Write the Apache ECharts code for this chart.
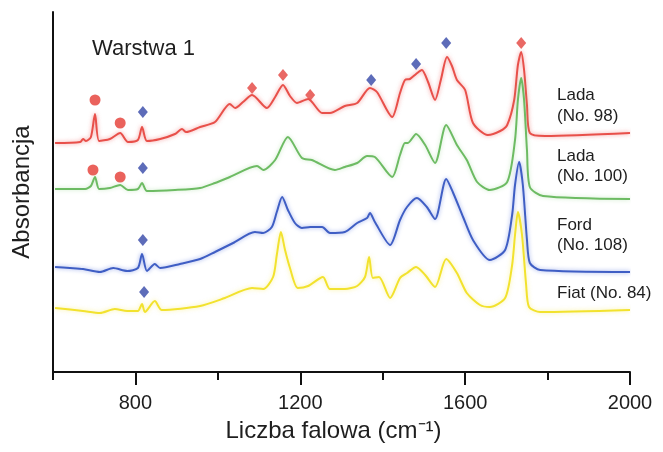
<!DOCTYPE html>
<html>
<head>
<meta charset="utf-8">
<script src="https://cdn.jsdelivr.net/npm/echarts@6/dist/echarts.min.js"></script>
<style>
  html, body { margin: 0; padding: 0; background: #fff; }
  #chart { width: 663px; height: 452px; }
</style>
</head>
<body>
<div id="chart"></div>
<script>
// widma IR - [liczba falowa, absorbancja (j. wzgl., z przesunięciem)]
const lada98 = [
  [605, 229], [666, 230], [673, 233], [680, 231], [692, 235], [702, 258], [712, 231], [738, 233],
  [763, 239], [782, 230], [806, 232], [816, 245], [828, 231], [860, 233], [896, 238], [913, 243],
  [923, 240], [957, 245], [993, 250], [1029, 268], [1042, 264], [1061, 270], [1083, 277], [1119, 264],
  [1139, 275], [1158, 287], [1175, 276], [1192, 269], [1219, 273], [1253, 259], [1272, 259], [1308, 266],
  [1338, 269], [1369, 284], [1386, 280], [1423, 255], [1442, 279], [1454, 292], [1466, 293], [1481, 298],
  [1495, 302], [1510, 290], [1527, 272], [1541, 292], [1556, 315], [1568, 306], [1580, 292], [1600, 282],
  [1619, 249], [1655, 237], [1685, 241], [1702, 247], [1719, 272], [1728, 307], [1736, 320], [1743, 302],
  [1750, 267], [1757, 239], [1794, 236], [2000, 239]
];
const lada100 = [
  [605, 183], [678, 183], [692, 186], [702, 195], [712, 183], [738, 184], [763, 187], [782, 182],
  [806, 183], [816, 189], [828, 181], [896, 182], [957, 184], [993, 189], [1029, 195], [1095, 206],
  [1110, 202], [1139, 212], [1170, 235], [1204, 214], [1228, 212], [1284, 202], [1308, 205], [1338, 209],
  [1362, 216], [1381, 215], [1423, 195], [1442, 217], [1454, 229], [1461, 229], [1481, 238], [1503, 227],
  [1527, 209], [1554, 247], [1580, 227], [1604, 212], [1629, 190], [1660, 182], [1702, 190], [1721, 232],
  [1728, 272], [1736, 294], [1743, 272], [1750, 222], [1757, 185], [1789, 176], [2000, 173]
];
const ford108 = [
  [605, 105], [641, 104], [673, 103], [714, 100], [746, 104], [780, 101], [806, 104], [816, 118],
  [828, 101], [847, 108], [860, 104], [908, 108], [957, 113], [993, 120], [1037, 129], [1090, 140],
  [1110, 139], [1131, 145], [1143, 160], [1156, 175], [1170, 162], [1187, 149], [1204, 144], [1224, 145],
  [1253, 145], [1272, 139], [1308, 140], [1338, 149], [1362, 154], [1369, 159], [1381, 150], [1418, 127],
  [1442, 152], [1459, 165], [1483, 174], [1507, 165], [1527, 153], [1554, 193], [1571, 179], [1595, 155],
  [1619, 132], [1660, 112], [1697, 122], [1714, 157], [1721, 187], [1731, 210], [1740, 187], [1750, 132],
  [1757, 109], [1782, 102], [2000, 100]
];
const fiat84 = [
  [605, 64], [673, 61], [714, 59], [750, 63], [780, 61], [806, 61], [816, 68], [823, 60],
  [847, 71], [864, 62], [957, 66], [1017, 74], [1083, 84], [1110, 83], [1134, 95], [1143, 117],
  [1153, 140], [1163, 122], [1175, 104], [1194, 84], [1219, 86], [1255, 95], [1272, 83], [1308, 83],
  [1338, 86], [1357, 95], [1367, 115], [1376, 94], [1391, 95], [1418, 74], [1442, 94], [1459, 99],
  [1481, 105], [1503, 97], [1527, 85], [1554, 113], [1580, 99], [1604, 79], [1636, 67], [1660, 65],
  [1697, 74], [1714, 107], [1721, 137], [1728, 160], [1738, 137], [1748, 87], [1755, 65], [1782, 60],
  [2000, 62]
];

// znaczniki pasm
const redCircles = [[702, 272], [763, 249], [697, 202], [763, 195]];
const blueDiamonds = [[818, 260], [818, 204], [818, 132], [821, 80], [1372, 292], [1481, 308], [1554, 329]];
const redDiamonds = [[1083, 284], [1158, 297], [1224, 277], [1736, 329]];

// etykiety widm i osi
const sampleLabels = [
  ["Lada", 97], ["(No. 98)", 118],
  ["Lada", 158], ["(No. 100)", 178],
  ["Ford", 227], ["(No. 108)", 247],
  ["Fiat (No. 84)", 295]
];
const majorTicks = [800, 1200, 1600, 2000];
const minorTicks = [600, 1000, 1400, 1800];

const FONT = "'Liberation Sans', Arial, sans-serif";

function lineSeries(name, data, color, glow) {
  return {
    name: name,
    type: "line",
    data: data,
    smooth: 0.25,
    showSymbol: false,
    silent: true,
    lineStyle: {
      color: color,
      width: 2,
      shadowColor: glow,
      shadowBlur: 4
    }
  };
}

const chart = echarts.init(document.getElementById("chart"));

chart.setOption({
  animation: false,
  title: {
    text: "Warstwa 1",
    left: 87,
    top: 33,
    textStyle: { fontFamily: FONT, fontSize: 22, fontWeight: "normal", color: "#1e1e1e" }
  },
  grid: { left: 53, right: 33, top: 12, bottom: 80 },
  xAxis: [
    {
      type: "value",
      min: 600,
      max: 2000,
      name: "Liczba falowa (cm⁻¹)",
      nameLocation: "middle",
      nameGap: 47,
      nameTextStyle: { fontFamily: FONT, fontSize: 24, color: "#1e1e1e", padding: [0, 16, 0, 0] },
      axisLine: { lineStyle: { color: "#111", width: 2 } },
      axisTick: { customValues: majorTicks, length: 13, lineStyle: { color: "#111", width: 2 } },
      axisLabel: {
        customValues: majorTicks,
        margin: 21,
        fontFamily: FONT,
        fontSize: 20,
        color: "#1e1e1e",
        formatter: function(v) {
          return String(v);
        }
      },
      splitLine: { show: false }
    },
    {
      // krótkie kreski pośrednie
      type: "value",
      min: 600,
      max: 2000,
      position: "bottom",
      axisLine: { show: false },
      axisTick: { customValues: minorTicks, length: 8, lineStyle: { color: "#111", width: 2 } },
      axisLabel: { show: false },
      splitLine: { show: false }
    }
  ],
  yAxis: {
    type: "value",
    min: 0,
    max: 360,
    name: "Absorbancja",
    nameLocation: "middle",
    nameGap: 19,
    nameTextStyle: { fontFamily: FONT, fontSize: 24, color: "#1e1e1e" },
    axisLine: { show: true, lineStyle: { color: "#111", width: 2 } },
    axisTick: { show: false },
    axisLabel: { show: false },
    splitLine: { show: false }
  },
  series: [
    lineSeries("Lada (No. 98)", lada98, "#e8504a", "rgba(240,110,110,0.7)"),
    lineSeries("Lada (No. 100)", lada100, "#6dbb63", "rgba(120,200,110,0.4)"),
    lineSeries("Ford (No. 108)", ford108, "#3f5ec4", "rgba(80,110,220,0.6)"),
    lineSeries("Fiat (No. 84)", fiat84, "#f2e22e", "rgba(245,230,60,0.5)"),
    {
      type: "scatter",
      data: redCircles,
      symbol: "circle",
      symbolSize: 11,
      itemStyle: { color: "#e53b33" }
    },
    {
      type: "scatter",
      data: blueDiamonds,
      symbol: "diamond",
      symbolSize: [10, 12],
      itemStyle: { color: "#3447a8" }
    },
    {
      type: "scatter",
      data: redDiamonds,
      symbol: "diamond",
      symbolSize: [10, 12],
      itemStyle: { color: "#e3423d" }
    }
  ],
  graphic: sampleLabels.map(function(item) {
    return {
      type: "text",
      left: 557,
      top: item[1] - 10,
      style: { text: item[0], fontFamily: FONT, fontSize: 17, fill: "#1e1e1e" }
    };
  })
});
</script>
</body>
</html>
